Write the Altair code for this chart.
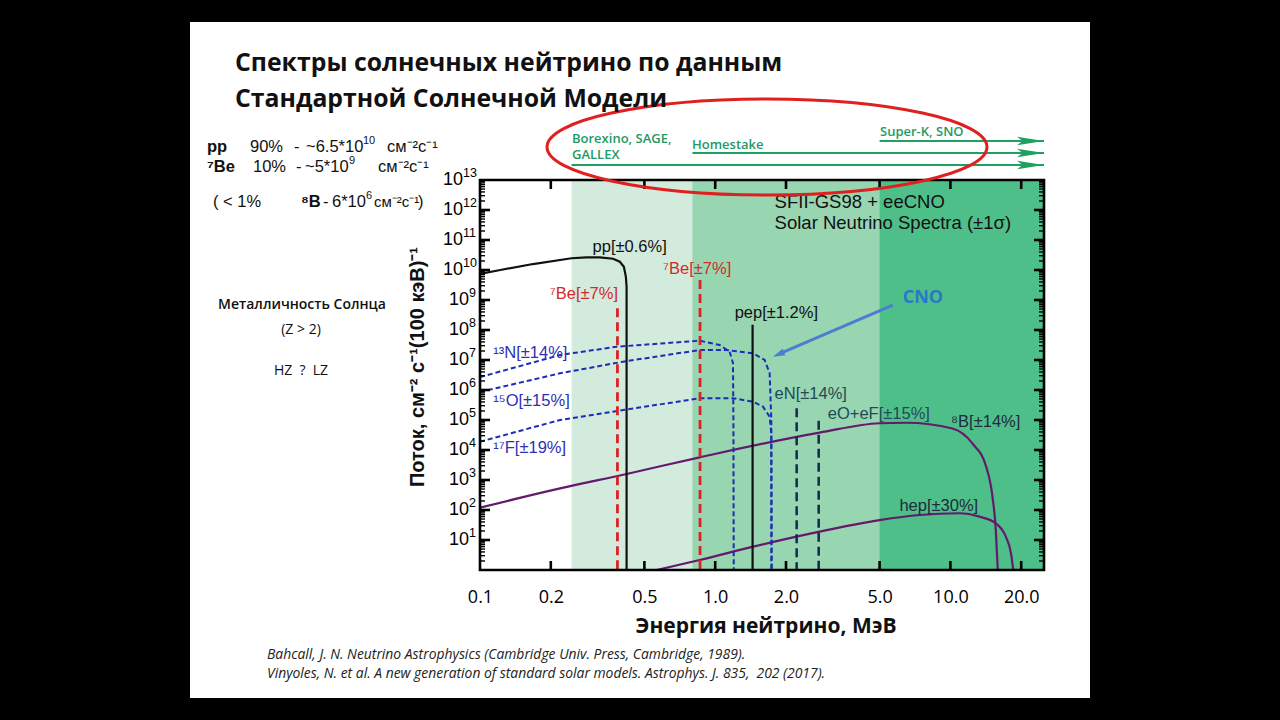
import altair as alt
import pandas as pd

# ---------------- values ----------------
# energies in MeV, fluxes in cm^-2 s^-1 (100 keV)^-1
pp_E = [0.100, 0.122, 0.168, 0.245, 0.284, 0.323, 0.368, 0.393, 0.409, 0.417, 0.420, 0.420]
pp_F = [7.4e9, 1.0e10, 1.58e10, 2.46e10, 2.65e10, 2.65e10, 2.38e10, 1.89e10, 1.29e10, 6.0e9, 2.8e9, 1.0]

n13_E = [0.100, 0.219, 0.381, 0.859, 1.045, 1.152, 1.190, 1.195, 1.199]
n13_F = [2.7e6, 1.47e7, 2.77e7, 4.4e7, 3.16e7, 1.89e7, 7.9e6, 1.0e5, 1.0]

o15_E = [0.100, 0.219, 0.406, 0.859, 1.116, 1.447, 1.623, 1.704, 1.732, 1.732]
o15_F = [8.6e5, 3.6e6, 8.8e6, 2.15e7, 2.15e7, 1.67e7, 1.0e7, 3.6e6, 1.0e5, 1.0]

f17_E = [0.100, 0.219, 0.406, 0.859, 1.190, 1.447, 1.596, 1.704, 1.732, 1.740]
f17_F = [1.89e4, 1.0e5, 2.15e5, 5.3e5, 5.3e5, 4.1e5, 2.8e5, 1.29e5, 3.6e4, 1.0]

b8_E = [0.100, 0.219, 0.420, 0.859, 2.78, 5.00, 6.49, 10.2, 12.4, 14.2, 15.1, 15.6, 15.9]
b8_F = [120, 526, 1585, 5.7e3, 3.8e4, 7.8e4, 8.1e4, 5.2e4, 1.66e4, 2.76e3, 276, 21, 1.0]

hep_E = [0.563, 0.859, 1.45, 2.78, 5.00, 7.38, 10.9, 13.3, 15.6, 17.2, 18.1, 18.5]
hep_F = [1.0, 2.15, 6.0, 19, 46, 68, 78, 60, 36, 13, 3.6, 1.0]

be7_E = [0.384, 0.862]
be7_F = [5.3e8, 4.6e9]
pep_E = [1.442]
pep_F = [1.5e8]
ecno_E = [2.220, 2.754]
ecno_F = [2.45e5, 9.5e4]

band_E = [0.245, 0.80, 5.0]          # detector thresholds (Ga, Cl, water)
band_colors = ["#d2ebdd", "#98d5b1", "#4fbf8a"]
detectors = ["Borexino, SAGE,", "Homestake", "Super-K, SNO"]

x_ticks = [0.1, 0.2, 0.5, 1, 2, 5, 10, 20]
y_exps = list(range(1, 14))

E_MIN, E_MAX = 0.1, 25.0
F_MIN, F_MAX = 1.0, 1e13

# in-plot labels: text, energy, flux, colour
labels = [
    ("pp[±0.6%]", 0.301, 5.7e10, "#111111"),
    ("⁷Be[±7%]", 0.198, 1.58e9, "#d42a2a"),
    ("⁷Be[±7%]", 0.600, 1.08e10, "#d42a2a"),
    ("pep[±1.2%]", 1.21, 3.6e8, "#111111"),
    ("¹³N[±14%]", 0.1139, 1.75e7, "#3030b0"),
    ("¹⁵O[±15%]", 0.1139, 4.4e5, "#3030b0"),
    ("¹⁷F[±19%]", 0.1139, 1.14e4, "#3030b0"),
    ("eN[±14%]", 1.789, 7.4e5, "#1f4a55"),
    ("eO+eF[±15%]", 3.01, 1.55e5, "#1f4a55"),
    ("⁸B[±14%]", 10.07, 8.8e4, "#1e2a40"),
    ("hep[±30%]", 6.07, 136, "#1e2a40"),
]
legend_lines = [("SFII-GS98 + eeCNO", 1.789, 1.81e12), ("Solar Neutrino Spectra (±1σ)", 1.789, 3.6e11)]
cno_label = ("CNO", 6.27, 1.14e9)
cno_arrow = {"E": 5.69, "F": 6.8e8, "E2": 1.925, "F2": 1.75e7, "Et": 1.76, "Ft": 1.29e7}

# ---------------- layout ----------------
W, H = 564, 390
X0, Y0 = 480, 180
PXD = W / 2.39794       # px per decade in x
PYD = H / 13.0          # px per decade in y
SANS = "Liberation Sans, Arial, Helvetica, sans-serif"
CAL = "Open Sans, sans-serif"
NB = "\u00a0"

XS = alt.Scale(type="log", domain=[E_MIN, E_MAX], nice=False)
YS = alt.Scale(type="log", domain=[F_MIN, F_MAX], nice=False)
X_AXIS = alt.Axis(values=x_ticks, format=".1f", labelFont=CAL, labelFontSize=18, labelPadding=18,
                  ticks=False, domain=False, grid=False, title=None, labelColor="black",
                  labelFlush=False, labelOverlap=False, zindex=2)


def X(f="E"):
    return alt.X(f"{f}:Q", scale=XS, axis=X_AXIS)


def Y(f="F"):
    return alt.Y(f"{f}:Q", scale=YS, axis=None)


def txt(s, x, y, size=16, font=SANS, weight="normal", color="#111111", align="left",
        style="normal", angle=0):
    return alt.Chart().mark_text(text=s, align=align, baseline="middle", font=font, fontSize=size,
                                 fontWeight=weight, color=color, fontStyle=style, angle=angle
                                 ).encode(x=alt.value(x - X0), y=alt.value(y - Y0))


def sup_txt(s, x, y, size=11, weight="normal"):
    return txt(s, x, y - 6, size=size, weight=weight)


layers = []
# slide
layers.append(alt.Chart().mark_rect(color="white").encode(
    x=alt.value(190 - X0), x2=alt.value(1090 - X0), y=alt.value(22 - Y0), y2=alt.value(698 - Y0)))

# bands
bands = pd.DataFrame({"E": band_E, "E2": [E_MAX] * 3, "c": band_colors})
layers.append(alt.Chart(bands).mark_rect().encode(
    x=X("E"), x2="E2", y=alt.value(0), y2=alt.value(H), color=alt.Color("c:N", scale=None)))


def curve(E, F, color, dash=None, width=2.0, interp="linear"):
    df = pd.DataFrame({"E": E, "F": F, "i": range(len(E))})
    kw = dict(color=color, strokeWidth=width, interpolate=interp, clip=True)
    if dash:
        kw["strokeDash"] = dash
    return alt.Chart(df).mark_line(**kw).encode(x=X(), y=Y(), order="i:Q")


def vlines(E, F, color, dash=None, width=2.5):
    df = pd.DataFrame({"E": E, "F": F, "F0": [F_MIN] * len(E)})
    kw = dict(color=color, strokeWidth=width)
    if dash:
        kw["strokeDash"] = dash
    return alt.Chart(df).mark_rule(**kw).encode(x=X(), y=Y(), y2="F0")


PURPLE = "#641a6c"
CNOB = "#1d2db8"
layers += [
    curve(b8_E, b8_F, PURPLE, width=2.2, interp="monotone"),
    curve(hep_E, hep_F, PURPLE, width=2.2, interp="monotone"),
    curve(n13_E, n13_F, CNOB, dash=[5, 3]),
    curve(o15_E, o15_F, CNOB, dash=[5, 3]),
    curve(f17_E, f17_F, CNOB, dash=[5, 3]),
    vlines(ecno_E, ecno_F, "#16284f", dash=[9, 5]),
    vlines(pep_E, pep_F, "#111111", width=2.2),
    curve(pp_E, pp_F, "#111111", width=2.2),
    vlines(be7_E, be7_F, "#d82424", dash=[9, 5], width=2.8),
]

# ticks (inward)
maj_y = [10.0 ** k for k in range(1, 13)]
min_y = [m * 10.0 ** k for k in range(0, 13) for m in range(2, 10)]
fl, fs = 10 ** (10 / PXD), 10 ** (5 / PXD)
tick_rows = []
for v in maj_y:
    tick_rows += [dict(F=v, E=E_MIN, E2=E_MIN * fl, w="a"), dict(F=v, E=E_MAX / fl, E2=E_MAX, w="a")]
for v in min_y:
    tick_rows += [dict(F=v, E=E_MIN, E2=E_MIN * fs, w="b"), dict(F=v, E=E_MAX / fs, E2=E_MAX, w="b")]
ytk = pd.DataFrame(tick_rows)
layers.append(alt.Chart(ytk).mark_rule(color="black").encode(
    x=X("E"), x2="E2", y=Y("F"),
    strokeWidth=alt.StrokeWidth("w:N", scale=alt.Scale(domain=["a", "b"], range=[2.6, 1.4]), legend=None)))
fy = 10 ** (9 / PYD)
xtk = pd.DataFrame([dict(E=v, F=F_MIN, F2=F_MIN * fy) for v in x_ticks[1:]] +
                   [dict(E=v, F=F_MAX / fy, F2=F_MAX) for v in x_ticks[1:]])
layers.append(alt.Chart(xtk).mark_rule(color="black", strokeWidth=2.6).encode(x=X("E"), y=Y("F"), y2="F2"))

# y tick labels: "10" with a raised exponent, placed through the y scale
ylab = pd.DataFrame({"F": [10.0 ** k for k in y_exps], "e": [str(k) for k in y_exps],
                     "n": [len(str(k)) for k in y_exps]})
ybase = alt.Chart(ylab).transform_calculate(xb="datum.n > 1 ? -17 : -11")
layers.append(ybase.mark_text(align="right", baseline="middle", font=SANS, fontSize=18, color="black",
                              text="10").encode(x=alt.X("xb:Q", scale=None), y=Y("F")))
layers.append(ybase.mark_text(align="left", baseline="middle", font=SANS, fontSize=12.5, color="black",
                              dy=-7).encode(x=alt.X("xb:Q", scale=None), y=Y("F"), text="e:N"))

# frame
layers.append(alt.Chart().mark_rect(filled=False, stroke="black", strokeWidth=2.6).encode(
    x=alt.value(0), x2=alt.value(W), y=alt.value(0), y2=alt.value(H)))

# in-plot labels
lab = pd.DataFrame(labels, columns=["t", "E", "F", "c"])
layers.append(alt.Chart(lab).mark_text(align="left", baseline="middle", font=SANS, fontSize=16.5).encode(
    x=X(), y=Y(), text="t:N", color=alt.Color("c:N", scale=None)))
leg = pd.DataFrame(legend_lines, columns=["t", "E", "F"])
layers.append(alt.Chart(leg).mark_text(align="left", baseline="middle", font=SANS, fontSize=18.5,
                                       color="#111111").encode(x=X(), y=Y(), text="t:N"))
cno = pd.DataFrame([cno_label], columns=["t", "E", "F"])
layers.append(alt.Chart(cno).mark_text(align="left", baseline="middle", font=CAL, fontSize=18,
                                       fontWeight="bold", color="#2a78c8").encode(x=X(), y=Y(), text="t:N"))
arr = pd.DataFrame([cno_arrow])
layers.append(alt.Chart(arr).mark_rule(color="#4a7fd0", strokeWidth=3).encode(
    x=X("E"), y=Y("F"), x2="E2", y2="F2"))
layers.append(alt.Chart(arr).mark_point(shape="M0,0L0.7,2.4L-0.7,2.4Z", size=100, filled=True,
                                        color="#4a7fd0", opacity=1, angle=246.6).encode(
    x=X("Et"), y=Y("Ft")))

# detector arrows above the plot
GREEN = "#20a062"
det_y = [165, 153, 141]
for e, yy in zip(band_E, det_y):
    d = pd.DataFrame({"E": [e], "E2": [E_MAX]})
    layers.append(alt.Chart(d).mark_rule(color=GREEN, strokeWidth=2).encode(
        x=X("E"), x2="E2", y=alt.value(yy - Y0)))
    layers.append(alt.Chart(d).mark_point(shape="M0,0L-2.4,-0.38L-1.9,0L-2.4,0.38Z", size=506,
                                          filled=True, color=GREEN, opacity=1).encode(
        x=X("E2"), y=alt.value(yy - Y0)))
layers += [
    txt(detectors[0], 572, 139, size=13, font=CAL, weight=600, color="#1f9a62"),
    txt("GALLEX", 572, 155, size=13, font=CAL, weight=600, color="#1f9a62"),
    txt(detectors[1], 692, 145, size=13, font=CAL, weight=600, color="#1f9a62"),
    txt(detectors[2], 880, 132, size=13, font=CAL, weight=600, color="#1f9a62"),
]
# red ellipse
r = 48 / 220
b = round(0.5523 * r, 4)
ell = ("M-1,0C-1,-{b} -0.5523,-{r} 0,-{r}C0.5523,-{r} 1,-{b} 1,0"
       "C1,{b} 0.5523,{r} 0,{r}C-0.5523,{r} -1,{b} -1,0Z").format(b=b, r=round(r, 4))
layers.append(alt.Chart().mark_point(shape=ell, size=440 ** 2, filled=False, stroke="#e0201e",
                                     strokeWidth=3, opacity=1, angle=0).encode(
    x=alt.value(767 - X0), y=alt.value(147 - Y0)))

# slide texts
S = 16.5
layers += [
    txt("Спектры солнечных нейтрино по данным", 235, 64, size=24.8, font=CAL, weight="bold"),
    txt("Стандартной Солнечной Модели", 235, 100, size=24.8, font=CAL, weight="bold"),
    # line 1
    txt("pp", 207, 147, size=S, weight="bold"),
    txt("90%", 250, 147, size=S),
    txt("-", 294, 147, size=S),
    txt("~6.5*10", 306, 147, size=S),
    sup_txt("10", 363, 147),
    txt("см⁻²с⁻¹", 387, 147, size=S),
    # line 2
    txt("⁷Be", 207, 167, size=S, weight="bold"),
    txt("10%", 253, 167, size=S),
    txt("-", 296, 167, size=S),
    txt("~5*10", 305, 167, size=S),
    sup_txt("9", 349, 167),
    txt("см⁻²с⁻¹", 378, 167, size=S),
    # line 3
    txt("(" + NB + "<" + NB + "1%", 213, 202, size=S),
    txt("⁸B", 301, 202, size=S, weight="bold"),
    txt("-", 323, 202, size=S),
    txt("6*10", 332, 202, size=S),
    sup_txt("6", 366, 202),
    txt("см⁻²с⁻¹", 374, 202, size=15),
    txt(")", 418, 202, size=S),
    txt("Металличность Солнца", 302, 305, size=14, font=CAL, weight=600, align="center"),
    txt("(Z > 2)", 301, 330, size=14, font=CAL, align="center"),
    txt("HZ" + NB + NB + "?" + NB + NB + "LZ", 301, 371, size=14, font=CAL, align="center"),
    txt("Поток, см⁻² с⁻¹(100 кэВ)⁻¹", 418, 367, size=20, weight="bold", align="center", angle=270),
    txt("Энергия нейтрино, МэВ", 766, 627, size=21, font=CAL, weight="bold", align="center"),
    txt("Bahcall, J. N. Neutrino Astrophysics (Cambridge Univ. Press, Cambridge, 1989).", 267, 655,
        size=13.9, font=CAL, style="italic", color="#222222"),
    txt("Vinyoles, N. et al. A new generation of standard solar models. Astrophys. J. 835," + NB + NB +
        "202 (2017).", 267, 674, size=13.9, font=CAL, style="italic", color="#222222"),
]

chart = alt.layer(*layers).properties(
    width=W, height=H,
    autosize=alt.AutoSizeParams(type="none"),
    padding={"left": X0, "top": Y0, "right": 1280 - X0 - W, "bottom": 720 - Y0 - H},
    background="black",
).configure_view(stroke=None)

chart.save("out.html", embed_options={"renderer": "svg", "actions": False})
